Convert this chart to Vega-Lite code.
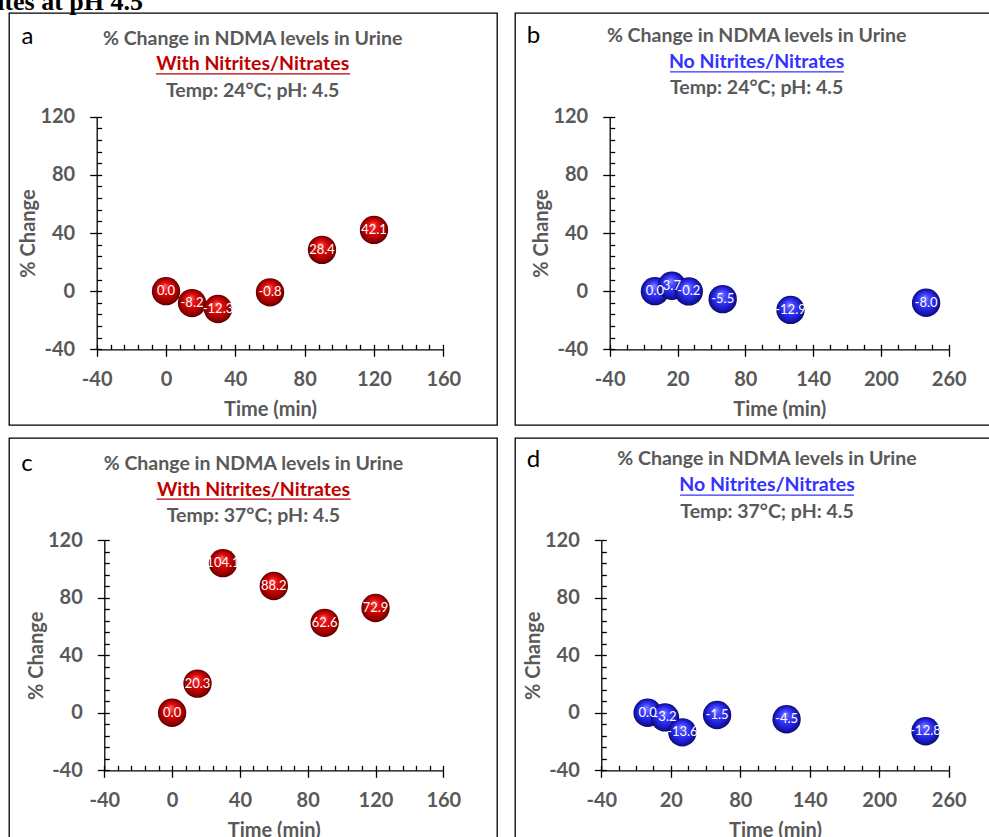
{
  "$schema": "https://vega.github.io/schema/vega-lite/v6.json",
  "autosize": "none",
  "padding": {"left": 9, "top": 13, "right": 980, "bottom": 824},
  "background": "white",
  "datasets": {
    "a": [{"t": 0, "v": 0.0}, {"t": 15, "v": -8.2}, {"t": 30, "v": -12.3}, {"t": 60, "v": -0.8}, {"t": 90, "v": 28.4}, {"t": 120, "v": 42.1}],
    "b": [{"t": 0, "v": 0.0}, {"t": 15, "v": 3.7}, {"t": 30, "v": -0.2}, {"t": 60, "v": -5.5}, {"t": 120, "v": -12.9}, {"t": 240, "v": -8.0}],
    "c": [{"t": 0, "v": 0.0}, {"t": 15, "v": 20.3}, {"t": 30, "v": 104.1}, {"t": 60, "v": 88.2}, {"t": 90, "v": 62.6}, {"t": 120, "v": 72.9}],
    "d": [{"t": 0, "v": 0.0}, {"t": 15, "v": -3.2}, {"t": 30, "v": -13.6}, {"t": 60, "v": -1.5}, {"t": 120, "v": -4.5}, {"t": 240, "v": -12.8}]
  },
  "columns": 2,
  "spacing": {"row": 11, "column": 16},
  "concat": [
    {
      "width": 488, "height": 412,
      "data": {"name": "a"},
      "resolve": {"axis": {"x": "independent", "y": "independent"}},
      "layer": [
        {
          "mark": {"type": "point", "filled": true, "shape": "circle", "size": 804, "opacity": 1, "strokeWidth": 0,
            "fill": {"gradient": "radial", "x1": 0.45, "y1": 0.3, "r1": 0, "x2": 0.5, "y2": 0.5, "r2": 0.5,
              "stops": [{"offset": 0, "color": "#ff6a6a"}, {"offset": 0.3, "color": "#e41414"}, {"offset": 0.65, "color": "#c00000"}, {"offset": 0.88, "color": "#8c0000"}, {"offset": 1, "color": "#520000"}]}},
          "encoding": {
            "x": {"field": "t", "type": "quantitative", "scale": {"domain": [-40, 160], "range": [87.7, 434.3]},
              "axis": {"orient": "bottom", "offset": -75.7, "values": [-40, 0, 40, 80, 120, 160], "title": "Time (min)"}},
            "y": {"field": "v", "type": "quantitative", "scale": {"domain": [-40, 120], "range": [336.3, 103.7]},
              "axis": {"orient": "left", "offset": -87.7, "values": [-40, 0, 40, 80, 120], "title": "% Change"}}
          }
        },
        {
          "mark": {"type": "text", "font": "Lato", "fontSize": 13, "color": "#ffffff"},
          "encoding": {
            "x": {"field": "t", "type": "quantitative",
              "axis": {"orient": "bottom", "offset": -75.7, "values": [-40, -32, -24, -16, -8, 0, 8, 16, 24, 32, 40, 48, 56, 64, 72, 80, 88, 96, 104, 112, 120, 128, 136, 144, 152, 160], "labels": false, "domain": false, "tickSize": -5, "title": null}},
            "y": {"field": "v", "type": "quantitative",
              "axis": {"orient": "left", "offset": -87.7, "values": [-40, -32, -24, -16, -8, 0, 8, 16, 24, 32, 40, 48, 56, 64, 72, 80, 88, 96, 104, 112, 120], "labels": false, "domain": false, "tickSize": -5, "title": null}},
            "text": {"field": "v", "type": "quantitative", "format": ".1f"}
          }
        },
        {
          "data": {"values": [{}]},
          "mark": {"type": "text", "font": "Liberation Serif", "fontSize": 26, "fontWeight": "bold", "color": "#000000", "align": "left", "baseline": "alphabetic"},
          "encoding": {"x": {"datum": -124.1, "type": "quantitative", "axis": null}, "y": {"datum": 193.4, "type": "quantitative", "axis": null}, "text": {"value": "Nitrites at pH 4.5"}}
        },
        {
          "data": {"values": [{}]},
          "mark": {"type": "text", "font": "Lato", "fontSize": 24, "color": "#000000"},
          "encoding": {"x": {"datum": -80, "type": "quantitative", "axis": null}, "y": {"datum": 174.5, "type": "quantitative", "axis": null}, "text": {"value": "a"}}
        },
        {
          "data": {"values": [{}]},
          "mark": {"type": "text", "font": "Lato", "fontSize": 19.5, "fontWeight": "bold", "color": "#595959"},
          "encoding": {"x": {"datum": 50, "type": "quantitative", "axis": null}, "y": {"datum": 173.4, "type": "quantitative", "axis": null}, "text": {"value": "% Change in NDMA levels in Urine"}}
        },
        {
          "data": {"values": [{}]},
          "mark": {"type": "text", "font": "Lato", "fontSize": 19.5, "fontWeight": "bold", "color": "#c00000"},
          "encoding": {"x": {"datum": 50, "type": "quantitative", "axis": null}, "y": {"datum": 156.2, "type": "quantitative", "axis": null}, "text": {"value": "With Nitrites/Nitrates"}}
        },
        {
          "data": {"values": [{}]},
          "mark": {"type": "rule", "color": "#c00000", "strokeWidth": 1.3},
          "encoding": {"x": {"datum": -5.8, "type": "quantitative", "axis": null}, "x2": {"datum": 106.2}, "y": {"datum": 149.4, "type": "quantitative", "axis": null}}
        },
        {
          "data": {"values": [{}]},
          "mark": {"type": "text", "font": "Lato", "fontSize": 19.5, "fontWeight": "bold", "color": "#595959"},
          "encoding": {"x": {"datum": 50, "type": "quantitative", "axis": null}, "y": {"datum": 138, "type": "quantitative", "axis": null}, "text": {"value": "Temp: 24°C; pH: 4.5"}}
        }
      ]
    },
    {
      "width": 488, "height": 412,
      "data": {"name": "b"},
      "resolve": {"axis": {"x": "independent", "y": "independent"}},
      "layer": [
        {
          "mark": {"type": "point", "filled": true, "shape": "circle", "size": 804, "opacity": 1, "strokeWidth": 0,
            "fill": {"gradient": "radial", "x1": 0.45, "y1": 0.3, "r1": 0, "x2": 0.5, "y2": 0.5, "r2": 0.5,
              "stops": [{"offset": 0, "color": "#8a8aff"}, {"offset": 0.3, "color": "#4646ff"}, {"offset": 0.65, "color": "#2525e6"}, {"offset": 0.88, "color": "#1414a8"}, {"offset": 1, "color": "#0a0a60"}]}},
          "encoding": {
            "x": {"field": "t", "type": "quantitative", "scale": {"domain": [-40, 260], "range": [94.7, 433.7]},
              "axis": {"orient": "bottom", "offset": -75.7, "values": [-40, 20, 80, 140, 200, 260], "title": "Time (min)"}},
            "y": {"field": "v", "type": "quantitative", "scale": {"domain": [-40, 120], "range": [336.3, 103.7]},
              "axis": {"orient": "left", "offset": -94.7, "values": [-40, 0, 40, 80, 120], "title": "% Change"}}
          }
        },
        {
          "mark": {"type": "text", "font": "Lato", "fontSize": 13, "color": "#ffffff"},
          "encoding": {
            "x": {"field": "t", "type": "quantitative",
              "axis": {"orient": "bottom", "offset": -75.7, "values": [-40, -25, -10, 5, 20, 35, 50, 65, 80, 95, 110, 125, 140, 155, 170, 185, 200, 215, 230, 245, 260], "labels": false, "domain": false, "tickSize": -5, "title": null}},
            "y": {"field": "v", "type": "quantitative",
              "axis": {"orient": "left", "offset": -94.7, "values": [-40, -32, -24, -16, -8, 0, 8, 16, 24, 32, 40, 48, 56, 64, 72, 80, 88, 96, 104, 112, 120], "labels": false, "domain": false, "tickSize": -5, "title": null}},
            "text": {"field": "v", "type": "quantitative", "format": ".1f"}
          }
        },
        {
          "data": {"values": [{}]},
          "mark": {"type": "text", "font": "Lato", "fontSize": 24, "color": "#000000"},
          "encoding": {"x": {"datum": -107.4, "type": "quantitative", "axis": null}, "y": {"datum": 175.8, "type": "quantitative", "axis": null}, "text": {"value": "b"}}
        },
        {
          "data": {"values": [{}]},
          "mark": {"type": "text", "font": "Lato", "fontSize": 19.5, "fontWeight": "bold", "color": "#595959"},
          "encoding": {"x": {"datum": 90, "type": "quantitative", "axis": null}, "y": {"datum": 175.8, "type": "quantitative", "axis": null}, "text": {"value": "% Change in NDMA levels in Urine"}}
        },
        {
          "data": {"values": [{}]},
          "mark": {"type": "text", "font": "Lato", "fontSize": 19.5, "fontWeight": "bold", "color": "#3333ff"},
          "encoding": {"x": {"datum": 90, "type": "quantitative", "axis": null}, "y": {"datum": 157.3, "type": "quantitative", "axis": null}, "text": {"value": "No Nitrites/Nitrates"}}
        },
        {
          "data": {"values": [{}]},
          "mark": {"type": "rule", "color": "#3333ff", "strokeWidth": 1.3},
          "encoding": {"x": {"datum": 13.4, "type": "quantitative", "axis": null}, "x2": {"datum": 167.3}, "y": {"datum": 150.9, "type": "quantitative", "axis": null}}
        },
        {
          "data": {"values": [{}]},
          "mark": {"type": "text", "font": "Lato", "fontSize": 19.5, "fontWeight": "bold", "color": "#595959"},
          "encoding": {"x": {"datum": 90, "type": "quantitative", "axis": null}, "y": {"datum": 139.4, "type": "quantitative", "axis": null}, "text": {"value": "Temp: 24°C; pH: 4.5"}}
        }
      ]
    },
    {
      "width": 488, "height": 412,
      "data": {"name": "c"},
      "resolve": {"axis": {"x": "independent", "y": "independent"}},
      "layer": [
        {
          "mark": {"type": "point", "filled": true, "shape": "circle", "size": 804, "opacity": 1, "strokeWidth": 0,
            "fill": {"gradient": "radial", "x1": 0.45, "y1": 0.3, "r1": 0, "x2": 0.5, "y2": 0.5, "r2": 0.5,
              "stops": [{"offset": 0, "color": "#ff6a6a"}, {"offset": 0.3, "color": "#e41414"}, {"offset": 0.65, "color": "#c00000"}, {"offset": 0.88, "color": "#8c0000"}, {"offset": 1, "color": "#520000"}]}},
          "encoding": {
            "x": {"field": "t", "type": "quantitative", "scale": {"domain": [-40, 160], "range": [95.3, 434.3]},
              "axis": {"orient": "bottom", "offset": -79.7, "values": [-40, 0, 40, 80, 120, 160], "title": "Time (min)"}},
            "y": {"field": "v", "type": "quantitative", "scale": {"domain": [-40, 120], "range": [332.3, 102.3]},
              "axis": {"orient": "left", "offset": -95.3, "values": [-40, 0, 40, 80, 120], "title": "% Change"}}
          }
        },
        {
          "mark": {"type": "text", "font": "Lato", "fontSize": 13, "color": "#ffffff"},
          "encoding": {
            "x": {"field": "t", "type": "quantitative",
              "axis": {"orient": "bottom", "offset": -79.7, "values": [-40, -32, -24, -16, -8, 0, 8, 16, 24, 32, 40, 48, 56, 64, 72, 80, 88, 96, 104, 112, 120, 128, 136, 144, 152, 160], "labels": false, "domain": false, "tickSize": -5, "title": null}},
            "y": {"field": "v", "type": "quantitative",
              "axis": {"orient": "left", "offset": -95.3, "values": [-40, -32, -24, -16, -8, 0, 8, 16, 24, 32, 40, 48, 56, 64, 72, 80, 88, 96, 104, 112, 120], "labels": false, "domain": false, "tickSize": -5, "title": null}},
            "text": {"field": "v", "type": "quantitative", "format": ".1f"}
          }
        },
        {
          "data": {"values": [{}]},
          "mark": {"type": "text", "font": "Lato", "fontSize": 24, "color": "#000000"},
          "encoding": {"x": {"datum": -85.6, "type": "quantitative", "axis": null}, "y": {"datum": 173.1, "type": "quantitative", "axis": null}, "text": {"value": "c"}}
        },
        {
          "data": {"values": [{}]},
          "mark": {"type": "text", "font": "Lato", "fontSize": 19.5, "fontWeight": "bold", "color": "#595959"},
          "encoding": {"x": {"datum": 48, "type": "quantitative", "axis": null}, "y": {"datum": 173.1, "type": "quantitative", "axis": null}, "text": {"value": "% Change in NDMA levels in Urine"}}
        },
        {
          "data": {"values": [{}]},
          "mark": {"type": "text", "font": "Lato", "fontSize": 19.5, "fontWeight": "bold", "color": "#c00000"},
          "encoding": {"x": {"datum": 48, "type": "quantitative", "axis": null}, "y": {"datum": 155.3, "type": "quantitative", "axis": null}, "text": {"value": "With Nitrites/Nitrates"}}
        },
        {
          "data": {"values": [{}]},
          "mark": {"type": "rule", "color": "#c00000", "strokeWidth": 1.3},
          "encoding": {"x": {"datum": -9.1, "type": "quantitative", "axis": null}, "x2": {"datum": 105.4}, "y": {"datum": 148.6, "type": "quantitative", "axis": null}}
        },
        {
          "data": {"values": [{}]},
          "mark": {"type": "text", "font": "Lato", "fontSize": 19.5, "fontWeight": "bold", "color": "#595959"},
          "encoding": {"x": {"datum": 48, "type": "quantitative", "axis": null}, "y": {"datum": 136.9, "type": "quantitative", "axis": null}, "text": {"value": "Temp: 37°C; pH: 4.5"}}
        }
      ]
    },
    {
      "width": 488, "height": 412,
      "data": {"name": "d"},
      "resolve": {"axis": {"x": "independent", "y": "independent"}},
      "layer": [
        {
          "mark": {"type": "point", "filled": true, "shape": "circle", "size": 804, "opacity": 1, "strokeWidth": 0,
            "fill": {"gradient": "radial", "x1": 0.45, "y1": 0.3, "r1": 0, "x2": 0.5, "y2": 0.5, "r2": 0.5,
              "stops": [{"offset": 0, "color": "#8a8aff"}, {"offset": 0.3, "color": "#4646ff"}, {"offset": 0.65, "color": "#2525e6"}, {"offset": 0.88, "color": "#1414a8"}, {"offset": 1, "color": "#0a0a60"}]}},
          "encoding": {
            "x": {"field": "t", "type": "quantitative", "scale": {"domain": [-40, 260], "range": [86.3, 433.7]},
              "axis": {"orient": "bottom", "offset": -79.7, "values": [-40, 20, 80, 140, 200, 260], "title": "Time (min)"}},
            "y": {"field": "v", "type": "quantitative", "scale": {"domain": [-40, 120], "range": [332.3, 102.3]},
              "axis": {"orient": "left", "offset": -86.3, "values": [-40, 0, 40, 80, 120], "title": "% Change"}}
          }
        },
        {
          "mark": {"type": "text", "font": "Lato", "fontSize": 13, "color": "#ffffff"},
          "encoding": {
            "x": {"field": "t", "type": "quantitative",
              "axis": {"orient": "bottom", "offset": -79.7, "values": [-40, -25, -10, 5, 20, 35, 50, 65, 80, 95, 110, 125, 140, 155, 170, 185, 200, 215, 230, 245, 260], "labels": false, "domain": false, "tickSize": -5, "title": null}},
            "y": {"field": "v", "type": "quantitative",
              "axis": {"orient": "left", "offset": -86.3, "values": [-40, -32, -24, -16, -8, 0, 8, 16, 24, 32, 40, 48, 56, 64, 72, 80, 88, 96, 104, 112, 120], "labels": false, "domain": false, "tickSize": -5, "title": null}},
            "text": {"field": "v", "type": "quantitative", "format": ".1f"}
          }
        },
        {
          "data": {"values": [{}]},
          "mark": {"type": "text", "font": "Lato", "fontSize": 24, "color": "#000000"},
          "encoding": {"x": {"datum": -98.5, "type": "quantitative", "axis": null}, "y": {"datum": 175.9, "type": "quantitative", "axis": null}, "text": {"value": "d"}}
        },
        {
          "data": {"values": [{}]},
          "mark": {"type": "text", "font": "Lato", "fontSize": 19.5, "fontWeight": "bold", "color": "#595959"},
          "encoding": {"x": {"datum": 103.1, "type": "quantitative", "axis": null}, "y": {"datum": 176.6, "type": "quantitative", "axis": null}, "text": {"value": "% Change in NDMA levels in Urine"}}
        },
        {
          "data": {"values": [{}]},
          "mark": {"type": "text", "font": "Lato", "fontSize": 19.5, "fontWeight": "bold", "color": "#3333ff"},
          "encoding": {"x": {"datum": 103.1, "type": "quantitative", "axis": null}, "y": {"datum": 158.5, "type": "quantitative", "axis": null}, "text": {"value": "No Nitrites/Nitrates"}}
        },
        {
          "data": {"values": [{}]},
          "mark": {"type": "rule", "color": "#3333ff", "strokeWidth": 1.3},
          "encoding": {"x": {"datum": 28, "type": "quantitative", "axis": null}, "x2": {"datum": 178.2}, "y": {"datum": 151.4, "type": "quantitative", "axis": null}}
        },
        {
          "data": {"values": [{}]},
          "mark": {"type": "text", "font": "Lato", "fontSize": 19.5, "fontWeight": "bold", "color": "#595959"},
          "encoding": {"x": {"datum": 103.1, "type": "quantitative", "axis": null}, "y": {"datum": 139.7, "type": "quantitative", "axis": null}, "text": {"value": "Temp: 37°C; pH: 4.5"}}
        }
      ]
    }
  ],
  "config": {
    "view": {"stroke": "#000000", "strokeWidth": 1.3},
    "locale": {"number": {"decimal": ".", "thousands": ",", "grouping": [3], "currency": ["", ""], "minus": "-"}},
    "axis": {
      "grid": false,
      "domainColor": "#000000", "domainWidth": 1.3,
      "tickColor": "#000000", "tickWidth": 1.3, "tickSize": 7,
      "labelFont": "Lato", "labelFontSize": 20, "labelFontWeight": "bold", "labelColor": "#595959",
      "titleFont": "Lato", "titleFontSize": 20, "titleFontWeight": "bold", "titleColor": "#595959",
      "labelFlush": false, "labelOverlap": false, "labelBound": false
    },
    "axisX": {"labelPadding": 13, "titlePadding": 10},
    "axisY": {"labelPadding": 15, "titlePadding": 1}
  }
}
